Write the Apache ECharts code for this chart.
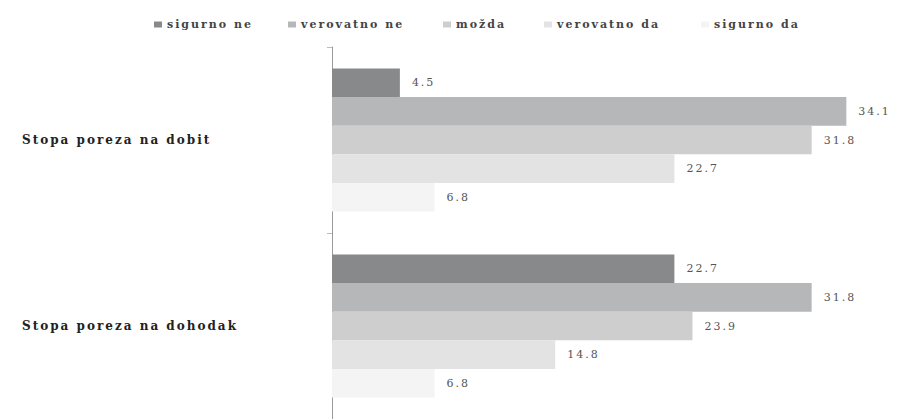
<!DOCTYPE html>
<html lang="sr">
<head>
    <meta charset="UTF-8">
    <title>Stopa poreza</title>
    <script src="https://cdn.jsdelivr.net/npm/echarts@6/dist/echarts.min.js"></script>
    <style>
        html, body { margin: 0; padding: 0; background: #fff; }
        #main { width: 897px; height: 419px; }
        /* the source uses a wide, letter-spaced serif */
        #main text { letter-spacing: 2px; }
    </style>
</head>
<body>
<div id="main"></div>
<script type="text/javascript">
    const categories = ['Stopa poreza na dobit', 'Stopa poreza na dohodak'];
    const seriesNames = ['sigurno ne', 'verovatno ne', 'možda', 'verovatno da', 'sigurno da'];
    const sigurnoNe = [4.5, 22.7];
    const verovatnoNe = [34.1, 31.8];
    const mozda = [31.8, 23.9];
    const verovatnoDa = [22.7, 14.8];
    const sigurnoDa = [6.8, 6.8];

    const values = [sigurnoNe, verovatnoNe, mozda, verovatnoDa, sigurnoDa];
    const colors = ['#88898b', '#b6b7b9', '#cececf', '#e3e3e4', '#f4f4f4'];
    const legendLeft = [149, 283, 438, 539, 696];
    const serif = '"DejaVu Serif", "Liberation Serif", serif';

    let chart = echarts.init(document.getElementById('main'), null, {renderer: 'svg'});

    let series = seriesNames.map(function (name, i) {
        return {
            name: name,
            type: 'bar',
            data: values[i],
            barGap: '0%',
            barCategoryGap: '23%',
            itemStyle: { color: colors[i] },
            label: {
                show: true,
                position: 'right',
                distance: 12,
                color: '#555',
                fontFamily: serif,
                fontSize: 11,
                formatter: function (p) { return p.value.toFixed(1); }
            },
            emphasis: { disabled: true }
        };
    });

    // one legend per item so every entry sits where the source has it
    let legends = seriesNames.map(function (name, i) {
        return {
            data: [name],
            top: 14,
            left: legendLeft[i],
            itemWidth: 8,
            itemHeight: 6,
            icon: 'rect',
            selectedMode: false,
            textStyle: {
                fontFamily: serif,
                fontWeight: 'bold',
                fontSize: 11,
                color: '#444'
            }
        };
    });

    let option = {
        animation: false,
        legend: legends,
        grid: {
            left: 332,
            right: 22,
            top: 47,
            bottom: -4,
            containLabel: false
        },
        xAxis: {
            type: 'value',
            min: 0,
            max: 36,
            show: false
        },
        yAxis: {
            type: 'category',
            inverse: true,
            data: categories,
            axisLine: { show: true, lineStyle: { color: '#9a9a9a', width: 1 } },
            axisTick: { show: true, length: 5, lineStyle: { color: '#bbb' } },
            axisLabel: {
                align: 'left',
                margin: 310,
                fontFamily: serif,
                fontWeight: 'bold',
                fontSize: 12,
                color: '#222'
            }
        },
        series: series
    };

    chart.setOption(option);
</script>
</body>
</html>
